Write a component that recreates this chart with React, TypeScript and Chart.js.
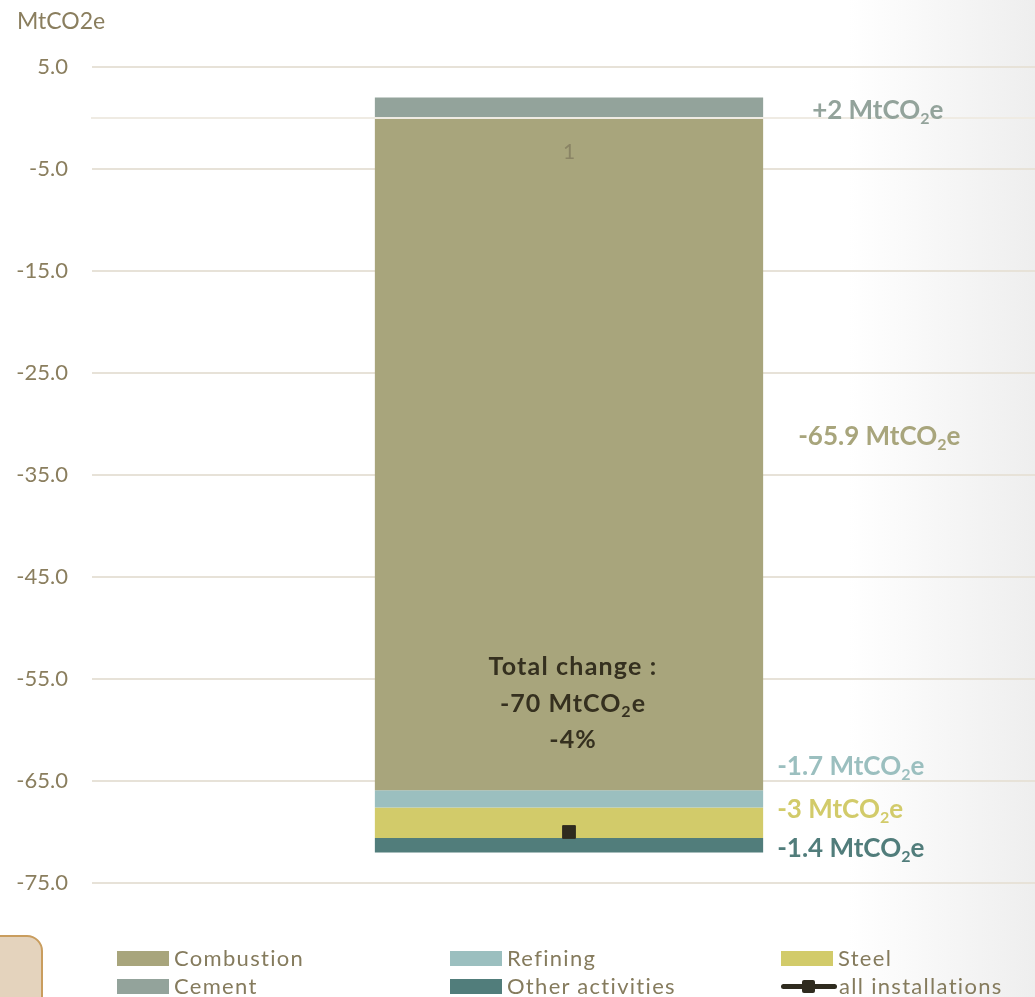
import { useEffect, useRef } from 'react';
import { Chart, registerables } from 'chart.js';

Chart.register(...registerables);

// ---- data -------------------------------------------------------------
const categories = ['1'];
const combustion = [-65.9];
const cement = [2];
const refining = [-1.7];
const steel = [-3];
const otherActivities = [-1.4];
const allInstallations = [-70];
const totalChangePct = [-4];
const yTicks = [5, -5, -15, -25, -35, -45, -55, -65, -75];

// ---- styling ----------------------------------------------------------
const FONT = 'Lato, "Open Sans", sans-serif';
const AXIS_TEXT = '#8a7e5e';
const GRID = '#e7e2d8';
const COLORS = {
  combustion: '#a8a57c',
  cement: '#93a39b',
  refining: '#9bbfbf',
  steel: '#d2cb6a',
  other: '#517d7b',
  total: '#2f2b1f',
};

// where each value label sits relative to its segment (right edge / middle)
const LABEL_NUDGE: Record<string, { dx: number; dy: number }> = {
  Combustion: { dx: 35, dy: -9 },
  Cement: { dx: 49, dy: 11 },
  Refining: { dx: 14, dy: -24 },
  Steel: { dx: 14, dy: -5 },
  'Other activities': { dx: 14, dy: 12 },
};
const TOTAL_TEXT_VALUE = -54.6; // y value of the first "Total change" line
const TOTAL_LINE_GAP = 37;

const fmt = (v: number) => (v > 0 ? '+' : '') + String(v);

function drawCo2(
  ctx: CanvasRenderingContext2D,
  lead: string,
  x: number,
  y: number,
  size: number,
  align: 'left' | 'center',
  color: string,
  spacing = 0,
) {
  const sub = Math.round(size * 0.62);
  const parts = [
    { t: lead + ' MtCO', s: size, dy: 0 },
    { t: '2', s: sub, dy: size * 0.2 },
    { t: 'e', s: size, dy: 0 },
  ];
  ctx.save();
  ctx.fillStyle = color;
  ctx.textBaseline = 'alphabetic';
  ctx.textAlign = 'left';
  (ctx as any).letterSpacing = `${spacing}px`;
  const widths = parts.map((p) => {
    ctx.font = `bold ${p.s}px ${FONT}`;
    return ctx.measureText(p.t).width;
  });
  const total = widths.reduce((a, b) => a + b, 0);
  let cx = align === 'center' ? x - total / 2 : x;
  parts.forEach((p, i) => {
    ctx.font = `bold ${p.s}px ${FONT}`;
    ctx.fillText(p.t, cx, y + p.dy);
    cx += widths[i];
  });
  ctx.restore();
}

function drawPlain(ctx: CanvasRenderingContext2D, text: string, x: number, y: number, size: number, color: string, spacing: number) {
  ctx.save();
  ctx.fillStyle = color;
  ctx.textBaseline = 'alphabetic';
  ctx.textAlign = 'left';
  (ctx as any).letterSpacing = `${spacing}px`;
  ctx.font = `bold ${size}px ${FONT}`;
  const w = ctx.measureText(text).width;
  ctx.fillText(text, x - w / 2, y);
  ctx.restore();
}

const valueLabels = {
  id: 'valueLabels',
  afterDraw(chart: Chart) {
    const ctx = chart.ctx;
    chart.data.datasets.forEach((ds: any, i: number) => {
      if (ds.type !== 'bar') return;
      const el: any = chart.getDatasetMeta(i).data[0];
      if (!el) return;
      const nudge = LABEL_NUDGE[ds.label] || { dx: 14, dy: 0 };
      const right = el.x + el.width / 2;
      const mid = (el.y + el.base) / 2;
      drawCo2(ctx, fmt(ds.data[0]), right + nudge.dx, mid + nudge.dy, 26, 'left', ds.backgroundColor);
    });

    // total change annotation inside the bar
    const y = chart.scales.y;
    const barEl: any = chart.getDatasetMeta(0).data[0];
    const cx = barEl.x + 4;
    const y0 = y.getPixelForValue(TOTAL_TEXT_VALUE);
    const ink = '#35301f';
    drawPlain(ctx, 'Total change :', cx, y0, 25, ink, 1.2);
    drawCo2(ctx, fmt(allInstallations[0]), cx, y0 + TOTAL_LINE_GAP, 25, 'center', ink, 1);
    drawPlain(ctx, fmt(totalChangePct[0]) + '%', cx, y0 + TOTAL_LINE_GAP * 2 - 1, 25, ink, 1);
  },
};

const legendItems = [
  { label: 'Combustion', color: COLORS.combustion, col: 0, row: 0 },
  { label: 'Refining', color: COLORS.refining, col: 1, row: 0 },
  { label: 'Steel', color: COLORS.steel, col: 2, row: 0 },
  { label: 'Cement', color: COLORS.cement, col: 0, row: 1 },
  { label: 'Other activities', color: COLORS.other, col: 1, row: 1 },
  { label: 'all installations', color: COLORS.total, col: 2, row: 1, line: true },
];
const LEGEND_COLS = [117, 450, 781];
const LEGEND_ROWS = [958, 986];

export default function App() {
  const ref = useRef<HTMLCanvasElement | null>(null);

  useEffect(() => {
    if (!ref.current) return;
    const chart = new Chart(ref.current, {
      type: 'bar',
      data: {
        labels: categories,
        datasets: [
          { type: 'bar', label: 'Combustion', data: combustion, backgroundColor: COLORS.combustion, stack: 'sectors' },
          { type: 'bar', label: 'Cement', data: cement, backgroundColor: COLORS.cement, stack: 'sectors' },
          { type: 'bar', label: 'Refining', data: refining, backgroundColor: COLORS.refining, stack: 'sectors' },
          { type: 'bar', label: 'Steel', data: steel, backgroundColor: COLORS.steel, stack: 'sectors' },
          { type: 'bar', label: 'Other activities', data: otherActivities, backgroundColor: COLORS.other, stack: 'sectors' },
          {
            type: 'line',
            label: 'all installations',
            data: allInstallations,
            stack: 'total',
            order: -1,
            showLine: false,
            borderColor: COLORS.total,
            backgroundColor: COLORS.total,
            pointStyle: 'rect',
            pointRadius: 9,
            pointBorderWidth: 1,
          } as any,
        ],
      },
      options: {
        animation: false,
        responsive: false,
        devicePixelRatio: 1,
        datasets: { bar: { barPercentage: 1, categoryPercentage: 0.407, borderWidth: 0 } },
        layout: { padding: { left: 17, right: 0, top: 0, bottom: 114 } },
        plugins: {
          legend: { display: false },
          tooltip: { enabled: false },
          title: {
            display: true,
            text: 'MtCO2e',
            align: 'start',
            color: AXIS_TEXT,
            font: { family: FONT, size: 23, weight: 'normal' },
            padding: { top: 8, bottom: 31.4 },
          },
        },
        scales: {
          x: {
            type: 'category',
            position: { y: 0 } as any,
            stacked: true,
            offset: true,
            grid: { display: false, drawTicks: false },
            border: { display: true, color: '#efebe3', width: 2, z: 1 },
            ticks: { color: '#8a8465', font: { family: FONT, size: 21 }, padding: 22, z: 1 },
            afterFit: (s: any) => {
              s.height = 0;
            },
          },
          y: {
            type: 'linear',
            stacked: true,
            min: yTicks[yTicks.length - 1],
            max: yTicks[0],
            afterBuildTicks: (s: any) => {
              s.ticks = yTicks.map((v) => ({ value: v }));
            },
            ticks: {
              color: AXIS_TEXT,
              font: { family: FONT, size: 22 },
              padding: 24,
              callback: (v: any) => Number(v).toFixed(1),
            },
            grid: { color: GRID, lineWidth: 2, drawTicks: false },
            border: { display: false },
            afterFit: (s: any) => {
              s.width = 75;
            },
          },
        },
      },
      plugins: [valueLabels],
    } as any);
    return () => chart.destroy();
  }, []);

  return (
    <div
      style={{
        position: 'fixed',
        left: 0,
        top: 0,
        width: 1035,
        height: 997,
        overflow: 'hidden',
        background: 'linear-gradient(90deg, #ffffff 0%, #ffffff 82%, #eeeeee 100%)',
        fontFamily: FONT,
      }}
    >
      <canvas ref={ref} width={1056} height={997} style={{ position: 'absolute', left: 0, top: 0 }} />
      <div
        style={{
          position: 'absolute',
          left: -20,
          top: 935,
          width: 59,
          height: 100,
          background: '#e4d3bd',
          border: '2px solid #c99d5e',
          borderRadius: 16,
        }}
      />
      {legendItems.map((it) => (
        <div
          key={it.label}
          style={{
            position: 'absolute',
            left: LEGEND_COLS[it.col],
            top: LEGEND_ROWS[it.row],
            transform: 'translateY(-50%)',
            display: 'flex',
            alignItems: 'center',
            height: 28,
          }}
        >
          {it.line ? (
            <div style={{ position: 'relative', width: 56, height: 15, marginRight: 2 }}>
              <div
                style={{
                  position: 'absolute',
                  left: 0,
                  right: 0,
                  top: 5,
                  height: 5,
                  borderRadius: 3,
                  background: it.color,
                }}
              />
              <div
                style={{
                  position: 'absolute',
                  left: 21,
                  top: 1,
                  width: 13,
                  height: 13,
                  borderRadius: 2,
                  background: it.color,
                }}
              />
            </div>
          ) : (
            <div style={{ width: 52, height: 15, background: it.color, marginRight: 5 }} />
          )}
          <span
            style={{
              fontSize: 22,
              lineHeight: '28px',
              color: '#857b5d',
              letterSpacing: 1.3,
              whiteSpace: 'nowrap',
            }}
          >
            {it.label}
          </span>
        </div>
      ))}
    </div>
  );
}
